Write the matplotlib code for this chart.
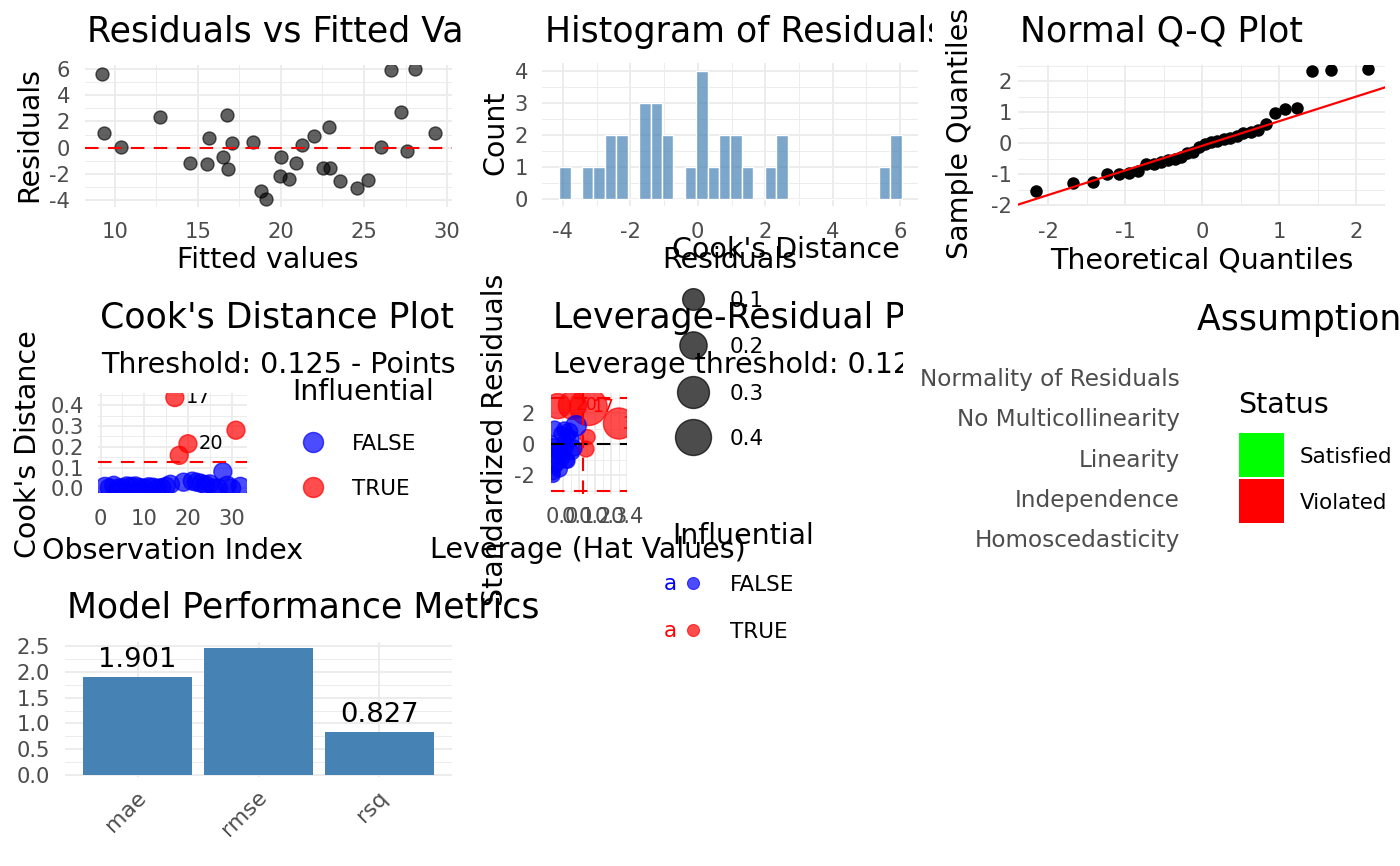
import numpy as np
import matplotlib
matplotlib.use("Agg")
import matplotlib.pyplot as plt
from matplotlib.transforms import Bbox, offset_copy, ScaledTranslation
from matplotlib.patches import Rectangle
from matplotlib.ticker import FormatStrFormatter

plt.rcParams['font.family'] = 'DejaVu Sans'
plt.rcParams['axes.unicode_minus'] = False

# ---------------- data ----------------
# residuals vs fitted
fitted_vals = [9.20, 9.36, 10.34, 12.73, 14.52, 15.57, 15.69, 16.51, 16.75, 16.83,
               17.06, 18.32, 18.80, 19.11, 19.99, 19.95, 20.49, 20.89, 21.26, 21.98,
               22.52, 22.98, 22.88, 23.53, 24.55, 25.26, 26.00, 26.62, 27.23, 27.59,
               28.05, 29.30]
resid_vals = [5.62, 1.09, 0.08, 2.32, -1.20, -1.27, 0.76, -0.69, 2.52, -1.63,
              0.33, 0.43, -3.31, -3.94, -0.69, -2.14, -2.37, -1.20, 0.20, 0.89,
              -1.53, -1.53, 1.58, -2.52, -3.05, -2.44, 0.05, 5.90, 2.70, -0.25,
              5.98, 1.15]

# histogram (30 bins)
hist_counts = [1, 0, 1, 1, 2, 2, 0, 3, 3, 2, 0, 1, 4, 1, 2, 2, 1, 0, 1, 2,
               0, 0, 0, 0, 0, 0, 0, 0, 1, 2]
hist_first_center = -3.94
hist_binwidth = 0.3385

# normal q-q
qq_theoretical = [-2.154, -1.676, -1.418, -1.230, -1.078, -0.947, -0.831, -0.725,
                  -0.626, -0.533, -0.445, -0.360, -0.277, -0.197, -0.118, -0.039,
                  0.039, 0.118, 0.197, 0.277, 0.360, 0.445, 0.533, 0.626,
                  0.725, 0.831, 0.947, 1.078, 1.230, 1.418, 1.676, 2.154]
qq_sample = [-1.54, -1.29, -1.25, -1.01, -1.00, -0.98, -0.89, -0.68,
             -0.66, -0.62, -0.55, -0.50, -0.44, -0.33, -0.28, -0.12,
             -0.02, 0.03, 0.07, 0.12, 0.16, 0.24, 0.31, 0.37,
             0.43, 0.62, 0.96, 1.11, 1.12, 2.32, 2.35, 2.39]
qq_intercept = -0.086
qq_slope = 0.795

# cook's distance / leverage, one entry per observation
obs_index = list(range(1, 33))
cooks_d = [0.010, 0.003, 0.015, 0.001, 0.003, 0.012, 0.010, 0.012, 0.004, 0.002,
           0.008, 0.006, 0.001, 0.004, 0.010, 0.020, 0.437, 0.159, 0.030, 0.215,
           0.035, 0.030, 0.025, 0.018, 0.022, 0.002, 0.001, 0.080, 0.015, 0.001,
           0.280, 0.010]
hat_vals = [0.00, -0.02, -0.05, -0.06, 0.01, -0.04, 0.03, -0.05, -0.06, -0.03,
            0.02, 0.06, -0.06, -0.01, 0.155, 0.145, 0.16, -0.03, 0.05, 0.06,
            0.04, -0.04, 0.02, -0.02, 0.07, -0.06, 0.00, 0.083, 0.03, -0.05,
            0.35, 0.01]
std_resid = [-0.60, -0.35, -1.40, 0.05, 0.20, -0.80, -1.07, 1.00, -1.83, -0.55,
             -0.20, -0.52, -0.10, 0.67, 0.46, -0.31, 2.40, 2.45, 0.35, 2.50,
             0.80, -1.20, -1.00, -1.60, -0.25, -2.00, -0.90, 1.18, 0.50, -0.40,
             1.33, 0.95]
cooks_threshold = 0.125
lev_threshold = 0.125
labelled_obs = [17, 20, 31]
cook_size_breaks = [0.1, 0.2, 0.3, 0.4]

# assumptions
assumptions = ["Homoscedasticity", "Independence", "Linearity",
               "No Multicollinearity", "Normality of Residuals"]
status_levels = ["Satisfied", "Violated"]
status_colors = ["#00FF00", "#FF0000"]

# model metrics
metric_names = ["mae", "rmse", "rsq"]
metric_values = [1.901, 2.469, 0.827]

# ---------------- layout helpers (pixel coords, y from top) ----------------
W, H = 1400, 866
PT = 0.72  # points per pixel at dpi 100
fig = plt.figure(figsize=(W / 100, H / 100), dpi=100)

GRID = '#EBEBEB'
TICKC = '#4D4D4D'
TITLE = 25
AXT = 20.5
TICK = 15.2
LEG = 15.5
BLUE = (0, 0, 1, 0.7)
RED = (1, 0, 0, 0.7)


def panel(l, t, r, b):
    return fig.add_axes([l / W, 1 - b / H, (r - l) / W, (b - t) / H])


def style(ax, xlim, ylim, xmaj, ymaj, xmin=(), ymin=(), xpad=15, ypad=15):
    ax.set_xlim(*xlim)
    ax.set_ylim(*ylim)
    ax.set_xticks(xmaj)
    ax.set_yticks(ymaj)
    ax.set_xticks(xmin, minor=True)
    ax.set_yticks(ymin, minor=True)
    ax.grid(True, which='major', color=GRID, lw=1.3)
    ax.grid(True, which='minor', color=GRID, lw=0.65)
    ax.set_axisbelow(True)
    for s in ax.spines.values():
        s.set_visible(False)
    ax.tick_params(which='both', length=0, labelsize=TICK, labelcolor=TICKC)
    ax.tick_params(axis='x', pad=xpad * PT)
    ax.tick_params(axis='y', pad=ypad * PT)
    ax.patch.set_alpha(0)


dash = (0, (6.5, 4.5))

# ---- residuals vs fitted ----
ax1 = panel(85, 65, 452, 207)
style(ax1, (8.2, 30.3), (-4.53, 6.31), [10, 15, 20, 25, 30], [-4, -2, 0, 2, 4, 6],
      [12.5, 17.5, 22.5, 27.5], [-3, -1, 1, 3, 5], xpad=15, ypad=15)
ax1.scatter(fitted_vals, resid_vals, s=(13 * PT) ** 2, facecolor=(0, 0, 0, 0.62),
            edgecolor=(0, 0, 0, 0.62), lw=1.0, zorder=2)
ax1.axhline(0, color='red', lw=1.5, ls=dash, zorder=3)

# ---- histogram ----
ax2 = panel(542, 63, 918, 205.7)
style(ax2, (-4.62, 6.53), (-0.2, 4.24), [-4, -2, 0, 2, 4, 6], [0, 1, 2, 3, 4],
      [-3, -1, 1, 3, 5], [0.5, 1.5, 2.5, 3.5], xpad=16, ypad=14)
centers = hist_first_center + hist_binwidth * np.arange(len(hist_counts))
ax2.bar(centers, hist_counts, width=hist_binwidth, facecolor=(70 / 255, 130 / 255, 180 / 255, 0.7),
        edgecolor='white', lw=1.0, zorder=2)

# ---- normal q-q ----
ax3 = panel(1018, 65, 1385, 206)
style(ax3, (-2.39, 2.37), (-2.03, 2.52), [-2, -1, 0, 1, 2], [-2, -1, 0, 1, 2],
      [-1.5, -0.5, 0.5, 1.5], [-1.5, -0.5, 0.5, 1.5, 2.5], xpad=16, ypad=6)
ax3.scatter(qq_theoretical, qq_sample, s=(12.5 * PT) ** 2, color='black', lw=0, zorder=2)
ax3.axline((0, qq_intercept), slope=qq_slope, color='red', lw=1.6, zorder=3)

# ---- cook's distance ----
cook_infl = [c > cooks_threshold for c in cooks_d]
ax4 = panel(98, 393, 247.3, 493)
style(ax4, (-0.6, 33.6), (-0.022, 0.459), [0, 10, 20, 30], [0, 0.1, 0.2, 0.3, 0.4],
      [5, 15, 25], [0.05, 0.15, 0.25, 0.35, 0.45], xpad=16, ypad=14)
ax4.yaxis.set_major_formatter(FormatStrFormatter('%.1f'))
cols = [RED if f else BLUE for f in cook_infl]
ax4.scatter(obs_index, cooks_d, s=(18 * PT) ** 2, facecolor=cols, edgecolor=cols, lw=1.0, zorder=2)
ax4.axhline(cooks_threshold, color='red', lw=1.5, ls=dash, zorder=3)
off4 = offset_copy(ax4.transData, fig=fig, x=11 * PT, y=0, units='points')
for i in labelled_obs:
    ax4.text(obs_index[i - 1], cooks_d[i - 1], str(i), transform=off4, ha='left',
             va='center', fontsize=14, clip_on=True, zorder=4)

# ---- leverage vs residuals ----
lev_infl = [(c > cooks_threshold) or (h > lev_threshold) for c, h in zip(cooks_d, hat_vals)]
ax5 = panel(551, 393, 627, 494)
style(ax5, (-0.073, 0.39), (-3.2, 3.29), [0, 0.1, 0.2, 0.3, 0.4], [-2, 0, 2],
      [0.05, 0.15, 0.25, 0.35], [-3, -1, 1, 3], xpad=13, ypad=16)
ax5.xaxis.set_major_formatter(FormatStrFormatter('%.1f'))
sizes = [(np.sqrt(196 + 2750 * c) * PT) ** 2 for c in cooks_d]
cols = [RED if f else BLUE for f in lev_infl]
ax5.scatter(hat_vals, std_resid, s=sizes, facecolor=cols, edgecolor=cols, lw=1.0, zorder=2)
ax5.axhline(0, color='black', lw=1.5, ls=dash, zorder=3)
ax5.axhline(3, color='red', lw=1.5, ls=dash, zorder=3)
ax5.axhline(-3, color='red', lw=1.5, ls=dash, zorder=3)
ax5.axvline(lev_threshold, color='red', lw=1.5, ls=dash, zorder=3)
for i in labelled_obs:
    ax5.text(hat_vals[i - 1] + 0.09, std_resid[i - 1], str(i), color='red', ha='center',
             va='center', fontsize=12.3, clip_on=True, zorder=4)

# ---- assumptions (panel collapsed to zero width) ----
ax6 = panel(1195, 353, 1195.2, 562)
ax6.set_ylim(0.4, 5.6)
ax6.set_yticks(range(1, len(assumptions) + 1))
ax6.set_yticklabels(assumptions)
ax6.set_xticks([])
for s in ax6.spines.values():
    s.set_visible(False)
ax6.tick_params(length=0, labelsize=16.7, labelcolor=TICKC, pad=15 * PT)
ax6.patch.set_alpha(0)

# ---- model metrics ----
ax7 = panel(65, 642, 452, 777)
style(ax7, (0.4, 3.6), (-0.039, 2.578), [1, 2, 3], [0, 0.5, 1.0, 1.5, 2.0, 2.5],
      [], [0.25, 0.75, 1.25, 1.75, 2.25], xpad=10, ypad=15)
ax7.yaxis.set_major_formatter(FormatStrFormatter('%.1f'))
xpos = np.arange(1, len(metric_names) + 1)
ax7.bar(xpos, metric_values, width=0.9, color='steelblue', zorder=2)
ax7.set_xticklabels(metric_names)
shift = ScaledTranslation(-2 / 100, 0, fig.dpi_scale_trans)
for lab in ax7.get_xticklabels():
    lab.set_rotation(45)
    lab.set_ha('right')
    lab.set_va('top')
    lab.set_rotation_mode('anchor')
    lab.set_fontsize(15.8)
    lab.set_transform(lab.get_transform() + shift)
off7 = offset_copy(ax7.transData, fig=fig, x=0, y=4 * PT, units='points')
for x, v in zip(xpos, metric_values):
    ax7.text(x, v, f"{v:.3f}", transform=off7, ha='center', va='bottom',
             fontsize=19.7, clip_on=True, zorder=4)

# ---------------- overlay: titles, axis titles, legends ----------------
ov = fig.add_axes([0, 0, 1, 1])
ov.set_xlim(0, W)
ov.set_ylim(H, 0)
ov.axis('off')


def clip_right(t, x1):
    t.set_clip_box(Bbox.from_extents(0, 0, x1, H))
    t.set_clip_on(True)


def btext(x, y, s, size, **kw):
    return ov.text(x, y, s, fontsize=size, va='baseline', **kw)


def ctext(x, y, s, size, **kw):
    # vertically centre capitals / digits on y
    return ov.text(x, y + 0.365 * size / PT, s, fontsize=size, va='baseline', **kw)


def vtext(x, y, s, size):
    return ov.text(x, y, s, fontsize=size, rotation=90, ha='center', va='baseline',
                   rotation_mode='anchor')


clip_right(btext(87, 42, "Residuals vs Fitted Values", TITLE), 465)
clip_right(btext(545, 42, "Histogram of Residuals", TITLE), 932)
btext(1020, 41, "Normal Q-Q Plot", TITLE)
btext(100, 328, "Cook's Distance Plot", TITLE)
clip_right(btext(101, 373, "Threshold: 0.125 - Points above are influential", AXT), 465)
clip_right(btext(552.7, 328, "Leverage-Residual Plot", TITLE), 903)
clip_right(btext(552.7, 372.7, "Leverage threshold: 0.125", AXT), 903)
btext(1196.7, 330, "Assumption Checks", TITLE)
btext(66.7, 618, "Model Performance Metrics", TITLE)

btext(268, 268, "Fitted values", AXT, ha='center')
btext(730, 268, "Residuals", AXT, ha='center')
btext(1202, 268.8, "Theoretical Quantiles", AXT, ha='center')
btext(172.5, 559, "Observation Index", AXT, ha='center')
btext(588, 557.5, "Leverage (Hat Values)", AXT, ha='center')
vtext(37, 134, "Residuals", AXT)
vtext(503, 133, "Count", AXT)
vtext(968, 133.5, "Sample Quantiles", AXT)
vtext(36, 444, "Cook's Distance", AXT)
vtext(503, 440, "Standardized Residuals", AXT)

# cook's plot legend
btext(292, 400, "Influential", AXT)
for y, c, lab in [(442, BLUE, "FALSE"), (487, RED, "TRUE")]:
    ov.scatter([313], [y], s=(20 * PT) ** 2, facecolor=[c], edgecolor=[c], lw=1.0)
    ctext(352, y, lab, LEG)

# leverage plot legends
btext(672, 258, "Cook's Distance", AXT)
for y, c in zip([299, 345, 391.7, 437], cook_size_breaks):
    ov.scatter([692.7], [y], s=(np.sqrt(196 + 2750 * c) * PT) ** 2,
               facecolor=[(0, 0, 0, 0.7)], edgecolor=[(0, 0, 0, 0.7)], lw=1.0)
    ctext(730, y, f"{c:.1f}", LEG)
btext(672, 544, "Influential", AXT)
for y, c, lab in [(583, BLUE, "FALSE"), (630, RED, "TRUE")]:
    ov.text(664, y + 7, "a", color=c[:3], fontsize=15.5, va='baseline')
    ov.scatter([692.7], [y], s=(12 * PT) ** 2, facecolor=[c], edgecolor=[c], lw=0.8)
    ctext(730, y, lab, LEG)

# status legend
btext(1238, 413, "Status", AXT)
for y0, col, lab in zip([433, 479], status_colors, status_levels):
    ov.add_patch(Rectangle((1239, y0), 45, 44, facecolor=col, edgecolor='none'))
    ctext(1300, y0 + 22, lab, LEG)

fig.savefig("out.png", dpi=100)
